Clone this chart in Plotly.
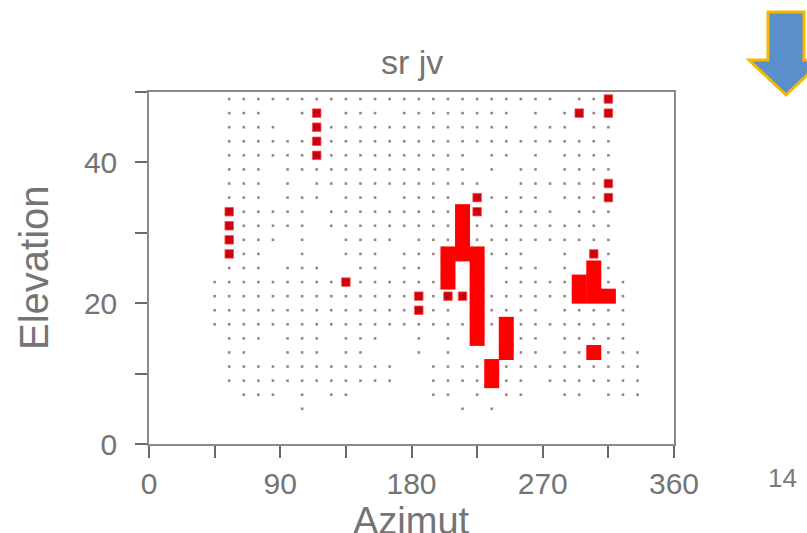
import plotly.graph_objects as go

# ---------------- data ----------------
# rows of the sampling grid (elevation, deg) and, for each row, the azimuths (deg)
# where a small grid dot is present ("a-b" = every 10 deg from a to b)
ELEV_ROWS = [49, 47, 45, 43, 41, 39, 37, 35, 33, 31, 29, 27, 25,
             23, 21, 19, 17, 15, 13, 11, 9, 7, 5]
DOT_AZ_SPEC = [
    "55-275,295-305",
    "55-75,105,135-155,175-245,265,285,305",
    "55-85,125-245,265-285,305-315",
    "55-105,125-315",
    "55-105,125-215,235-245,265,285-315",
    "55-75,95-215,235,255-265,285-315",
    "55-75,95,115-225,255-305",
    "55-75,95-115,135-155,175-205,235-265,285-305",
    "65-105,125-205,245-275,295-315",
    "65-105,125-205,225-315",
    "65-85,105,135-165,185-205,225-315",
    "65-75,105,135-155,175-195,235-255,285,315",
    "55-75,95-115,145-155,175-185,245-265,285,315",
    "45-125,145-195,245-285,315-325",
    "45-175,195,235-285,325",
    "45-175,195-205,235-265,285-325",
    "45-215,235,255-325",
    "55-75,95-115,135-155,185,205,255-265,285-325",
    "55-65,95-115,135-145,185,205,245-265,285-295,315-335",
    "55-165,195-225,245-335",
    "55-165,195-225,245-255,275-335",
    "65-85,105,125-135,195-205,225,245-255,285-295,315-335",
    "105,215,235",
]

# isolated (weaker) red cells
WEAK_AZ = [55, 55, 55, 55, 115, 115, 115, 115, 135, 185, 185, 225, 225,
           205, 215, 295, 315, 315, 315, 315, 305]
WEAK_EL = [33, 31, 29, 27, 47, 45, 43, 41, 23, 21, 19, 35, 33,
           21, 21, 47, 49, 47, 37, 35, 27]

# strong red cells (filled blobs)
STRONG_AZ = [205, 205, 205, 215, 215, 215, 215, 225, 225, 225, 225, 225, 225, 225,
             245, 245, 245, 235, 235, 295, 295, 305, 305, 305, 305, 315]
STRONG_EL = [27, 25, 23, 33, 31, 29, 27, 27, 25, 23, 21, 19, 17, 15,
             17, 15, 13, 11, 9, 23, 21, 25, 23, 21, 13, 21]

X_TICKS = [0, 45, 90, 135, 180, 225, 270, 315, 360]
X_TICK_TEXT = ["0", "", "90", "", "180", "", "270", "", "360"]
Y_TICKS = [0, 10, 20, 30, 40, 50]
Y_TICK_TEXT = ["0", "", "20", "", "40", ""]

TITLE = "sr jv"
X_TITLE = "Azimut"
Y_TITLE = "Elevation"
PAGE_NUMBER = "14"

# ---------------- build ----------------
def expand(spec):
    out = []
    for part in spec.split(","):
        if "-" in part:
            a, b = part.split("-")
            out.extend(range(int(a), int(b) + 1, 10))
        else:
            out.append(int(part))
    return out

dot_x, dot_y = [], []
for el, spec in zip(ELEV_ROWS, DOT_AZ_SPEC):
    for az in expand(spec):
        dot_x.append(az)
        dot_y.append(el)

W, H = 807, 533
L, R, T, B = 149, 133, 92, 89
PW, PH = W - L - R, H - T - B

def px(xp):
    return (xp - L) / PW

def py(yp):
    return (H - B - yp) / PH

FONT = "Liberation Sans, Arial, sans-serif"
TXT = "#747474"

fig = go.Figure()
fig.add_trace(go.Scatter(
    x=dot_x, y=dot_y, mode="markers",
    marker=dict(symbol="square", size=2.6, color="#9a8484", line=dict(width=0)),
    hoverinfo="skip", showlegend=False))
fig.add_trace(go.Scatter(
    x=STRONG_AZ, y=STRONG_EL, mode="markers",
    marker=dict(symbol="square", size=15, color="#ff0000", line=dict(width=0)),
    showlegend=False))
fig.add_trace(go.Scatter(
    x=WEAK_AZ, y=WEAK_EL, mode="markers",
    marker=dict(symbol="square", size=8.5, color="#cc0010",
                line=dict(width=0.8, color="#ff4a3a")),
    showlegend=False))

axis_common = dict(
    showgrid=False, zeroline=False, showline=True, mirror=True,
    linecolor="#8a8a8a", linewidth=1.5,
    ticks="outside", ticklen=12, tickwidth=1.5, tickcolor="#6a6a6a",
    tickfont=dict(family=FONT, size=30, color=TXT),
)

fig.update_layout(
    width=W, height=H,
    margin=dict(l=L, r=R, t=T, b=B, pad=0),
    paper_bgcolor="white", plot_bgcolor="white",
    xaxis=dict(range=[0, 360], tickvals=X_TICKS, ticktext=X_TICK_TEXT,
               ticklabelstandoff=0, **axis_common),
    yaxis=dict(range=[0, 50], tickvals=Y_TICKS, ticktext=Y_TICK_TEXT,
               ticklabelstandoff=12, **axis_common),
    showlegend=False,
)

ann = [
    dict(text=TITLE, x=0.5, y=py(62), xref="paper", yref="paper",
         xanchor="center", yanchor="middle", showarrow=False,
         font=dict(family=FONT, size=34, color=TXT)),
    dict(text=X_TITLE, x=0.5, y=py(521), xref="paper", yref="paper",
         xanchor="center", yanchor="middle", showarrow=False,
         font=dict(family=FONT, size=38, color=TXT)),
    dict(text=Y_TITLE, x=px(34), y=0.5, xref="paper", yref="paper",
         xanchor="center", yanchor="middle", showarrow=False, textangle=-90,
         font=dict(family=FONT, size=40, color=TXT)),
    dict(text=PAGE_NUMBER, x=px(782), y=py(478), xref="paper", yref="paper",
         xanchor="center", yanchor="middle", showarrow=False,
         font=dict(family=FONT, size=26, color="#7a7a7a")),
]
fig.update_layout(annotations=ann)

# decorative slide arrow (top right)
arrow_px = [(768, 12), (804, 12), (804, 60), (823, 60), (786, 95), (749, 60), (768, 60)]
path = "M " + " L ".join(f"{px(a):.5f},{py(b):.5f}" for a, b in arrow_px) + " Z"
fig.add_shape(type="path", path=path, xref="paper", yref="paper",
              fillcolor="#5b8fc9", line=dict(color="#f5b800", width=3), layer="above")

fig.write_html("out.html",
               config={"displayModeBar": False},
               post_script="document.body.style.margin='0';"
                           "document.body.style.overflow='hidden';")
